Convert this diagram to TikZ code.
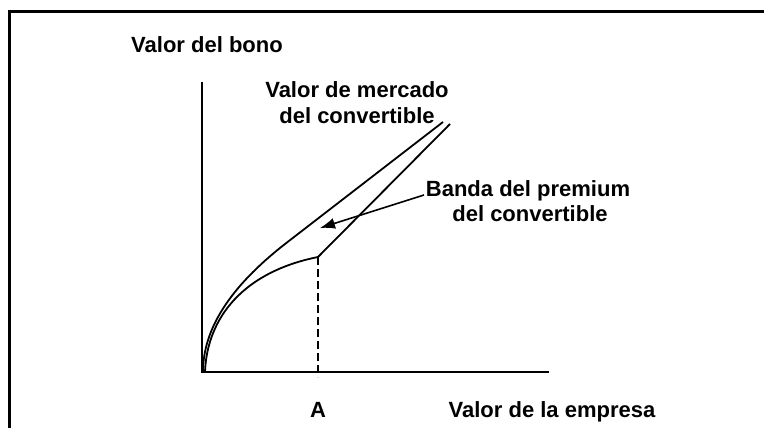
\documentclass[tikz,border=0pt]{standalone}
\usepackage{fontspec}
\setmainfont{Liberation Sans}
\usetikzlibrary{arrows.meta}
\begin{document}
\begin{tikzpicture}[x=1pt,y=-1pt,
  lbl/.style={font=\fontsize{22}{26}\selectfont\bfseries, inner sep=0pt, anchor=base},
  curve/.style={line width=1.8pt, line join=miter},
  axis/.style={line width=1.8pt},
  frameline/.style={line width=3pt, line join=miter},
  guide/.style={line width=1.6pt, dash pattern=on 8pt off 4pt}]
\useasboundingbox (0,0) rectangle (764,428);
% frame
\draw[frameline] (764,11.5) -- (9.5,11.5) -- (9.5,428);
% axes
\coordinate (O) at (202,372);
\coordinate (ytop) at (202,82);
\coordinate (xend) at (549,372);
\draw[axis] (ytop) -- (O) -- (xend);
% key points
\coordinate (U0) at (203,372);
\coordinate (Uk) at (285,244);
\coordinate (Ue) at (443,122);
\coordinate (L0) at (205,372);
\coordinate (Lk) at (318,257);
\coordinate (Le) at (450,124);
\coordinate (Abase) at (318,377);
% upper curve: market value of convertible
\draw[curve] (U0) .. controls (203,329) and (230,287) .. (Uk) -- (Ue);
% lower curve
\draw[curve] (L0) .. controls (207,318) and (243,272) .. (Lk) -- (Le);
% dashed guide
\draw[guide] (Lk) -- (Abase);
% labels
\node[lbl] (ylab) at (207,53) {Valor del bono};
\node[lbl] (mv1) at (357,98) {Valor de mercado};
\node[lbl] (mv2) at (357,124) {del convertible};
\node[lbl] (bp1) at (528,196) {Banda del premium};
\node[lbl] (bp2) at (530,221) {del convertible};
\node[lbl] (alab) at (318,417) {A};
\node[lbl] (xlab) at (552,417) {Valor de la empresa};
% arrow
\coordinate (arrS) at (424,195);
\coordinate (arrE) at (320,228);
\draw[line width=1.6pt, -{Latex[length=15pt,width=11pt]}] (arrS) -- (arrE);
\end{tikzpicture}
\end{document}
